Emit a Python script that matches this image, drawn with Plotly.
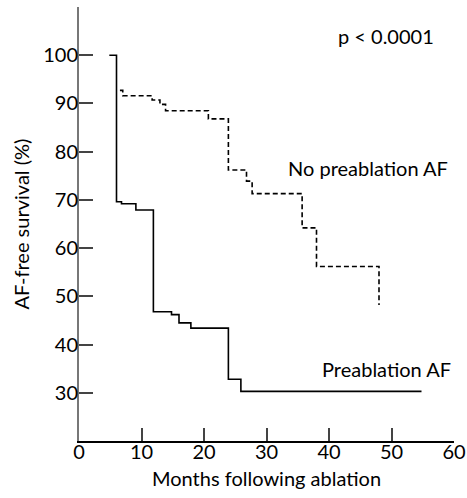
import plotly.graph_objects as go

# Preablation AF (solid)
pre_months = [4.85, 6.0, 6.8, 9.1, 11.9, 14.8, 16.0, 17.9, 23.9, 25.9, 54.8]
pre_values = [100, 69.6, 69.2, 67.9, 46.8, 46.2, 44.5, 43.4, 32.8, 30.3, 30.3]

# No preablation AF (dashed)
nopre_months = [6.55, 7.0, 11.7, 12.95, 13.85, 20.7, 23.9, 26.8, 27.7, 35.7, 38.0, 48.0]
nopre_values = [92.7, 91.6, 90.7, 89.8, 88.5, 86.8, 76.2, 73.9, 71.3, 64.2, 56.2, 48.2]

x_ticks = [0, 10, 20, 30, 40, 50, 60]
y_ticks = [20, 30, 40, 50, 60, 70, 80, 90, 100, 110]
y_ticktext = ["", "30", "40", "50", "60", "70", "80", "90", "100", ""]

FONT = "Lato"
FS = 20

fig = go.Figure()
fig.add_trace(go.Scatter(x=pre_months, y=pre_values, mode="lines",
                         line=dict(color="black", width=1.6, shape="hv"),
                         showlegend=False))
fig.add_trace(go.Scatter(x=nopre_months, y=nopre_values, mode="lines",
                         line=dict(color="black", width=1.6, shape="hv", dash="5px,3px"),
                         showlegend=False))

fig.add_annotation(x=49.1, y=103.9, text="p < 0.0001", showarrow=False,
                   xanchor="center", yanchor="middle",
                   font=dict(family=FONT, size=FS, color="black"))
fig.add_annotation(x=46.25, y=76.6, text="No preablation AF", showarrow=False,
                   xanchor="center", yanchor="middle",
                   font=dict(family=FONT, size=FS, color="black"))
fig.add_annotation(x=49.2, y=35.0, text="Preablation AF", showarrow=False,
                   xanchor="center", yanchor="middle",
                   font=dict(family=FONT, size=FS, color="black"))

# axis titles as paper annotations
fig.add_annotation(xref="paper", yref="paper", x=0.5, y=-0.085,
                   xanchor="center", yanchor="middle",
                   text="Months following ablation", showarrow=False,
                   font=dict(family=FONT, size=FS, color="black"))
fig.add_annotation(xref="paper", yref="paper", x=-0.156, y=0.5,
                   xanchor="center", yanchor="middle",
                   text="AF-free survival (%)", showarrow=False, textangle=-90,
                   font=dict(family=FONT, size=FS, color="black"))

fig.update_layout(
    width=467, height=498,
    margin=dict(l=79, r=13, t=7, b=57),
    paper_bgcolor="white", plot_bgcolor="white",
    font=dict(family=FONT, size=FS, color="black"),
    xaxis=dict(range=[0, 60], tickvals=x_ticks, ticks="inside", ticklen=13,
               tickwidth=1.5, tickcolor="#444", showline=True, linecolor="black",
               linewidth=2, showgrid=False, zeroline=False, automargin=False,
               ticklabelstandoff=-8,
               tickfont=dict(family=FONT, size=FS)),
    yaxis=dict(range=[20, 110], tickvals=y_ticks, ticktext=y_ticktext,
               ticks="inside", ticklen=14, tickwidth=1.5, tickcolor="#444",
               showline=True, linecolor="#777", linewidth=2, showgrid=False,
               zeroline=False, automargin=False, ticklabelstandoff=-5,
               tickfont=dict(family=FONT, size=FS)),
)

fig.write_html("out.html", config={"displayModeBar": False},
               post_script="document.body.style.margin='0';document.body.style.overflow='hidden';")
